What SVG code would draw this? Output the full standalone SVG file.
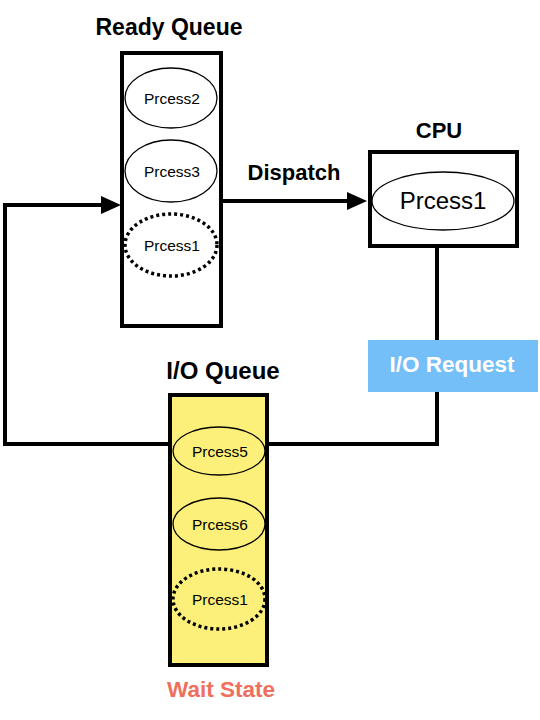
<svg xmlns="http://www.w3.org/2000/svg" width="540" height="720" viewBox="0 0 540 720">
<defs>
<style>
.box{fill:#fff;stroke:#000;stroke-width:4}
.ybox{fill:#FCF07A;stroke:#000;stroke-width:4}
.el{fill:none;stroke:#000;stroke-width:1.3}
.dot{fill:none;stroke:#000;stroke-width:3.5;stroke-dasharray:3 3}
.t{font-family:"Liberation Sans",Arial,sans-serif;font-size:15.5px;text-anchor:middle;fill:#000}
.b{font-family:"Liberation Sans",Arial,sans-serif;font-weight:bold;text-anchor:middle;fill:#000}
.line{fill:none;stroke:#000;stroke-width:4}
.head{fill:#000}
</style>
</defs>
<rect width="540" height="720" fill="#fff"/>
<g id="connectors">
<path class="line" d="M437,247 V444 H268"/>
<path class="line" d="M170,444 H5 V205 H104"/>
<polygon class="head" points="121,205 101,196 101,214"/>
<path class="line" d="M222,201 H350"/>
<polygon class="head" points="367,201 347,192 347,210"/>
<text class="b" x="294" y="180" style="font-size:22px">Dispatch</text>
</g>
<g id="ready-queue">
<text class="b" x="169" y="35" style="font-size:23px">Ready Queue</text>
<rect class="box" x="122" y="53" width="99" height="273"/>
<ellipse class="el" cx="171" cy="98" rx="46" ry="30"/>
<text class="t" x="172" y="104">Prcess2</text>
<ellipse class="el" cx="171" cy="171" rx="46" ry="31"/>
<text class="t" x="172" y="177">Prcess3</text>
<ellipse class="dot" cx="171" cy="245" rx="46" ry="31"/>
<text class="t" x="172" y="251">Prcess1</text>
</g>
<g id="cpu">
<text class="b" x="439" y="138" style="font-size:22px">CPU</text>
<rect class="box" x="370" y="152" width="147" height="94"/>
<ellipse class="el" cx="443" cy="201" rx="71" ry="29"/>
<text class="t" x="443" y="209" style="font-size:24px">Prcess1</text>
</g>
<g id="io-request">
<rect x="368" y="340" width="170" height="52" fill="#74BFF7"/>
<text class="b" x="452" y="372" style="font-size:22.5px;fill:#fff">I/O Request</text>
</g>
<g id="io-queue">
<text class="b" x="223" y="379" style="font-size:24px">I/O Queue</text>
<rect class="ybox" x="170" y="395" width="97" height="270"/>
<ellipse class="el" cx="219" cy="451" rx="46" ry="24"/>
<text class="t" x="220" y="457">Prcess5</text>
<ellipse class="el" cx="219" cy="524" rx="46" ry="26"/>
<text class="t" x="220" y="530">Prcess6</text>
<ellipse class="dot" cx="219" cy="599" rx="46" ry="30"/>
<text class="t" x="220" y="605">Prcess1</text>
</g>
<g id="wait-state">
<text class="b" x="221" y="697" style="font-size:22.5px;fill:#EF6F5C">Wait State</text>
</g>
</svg>
